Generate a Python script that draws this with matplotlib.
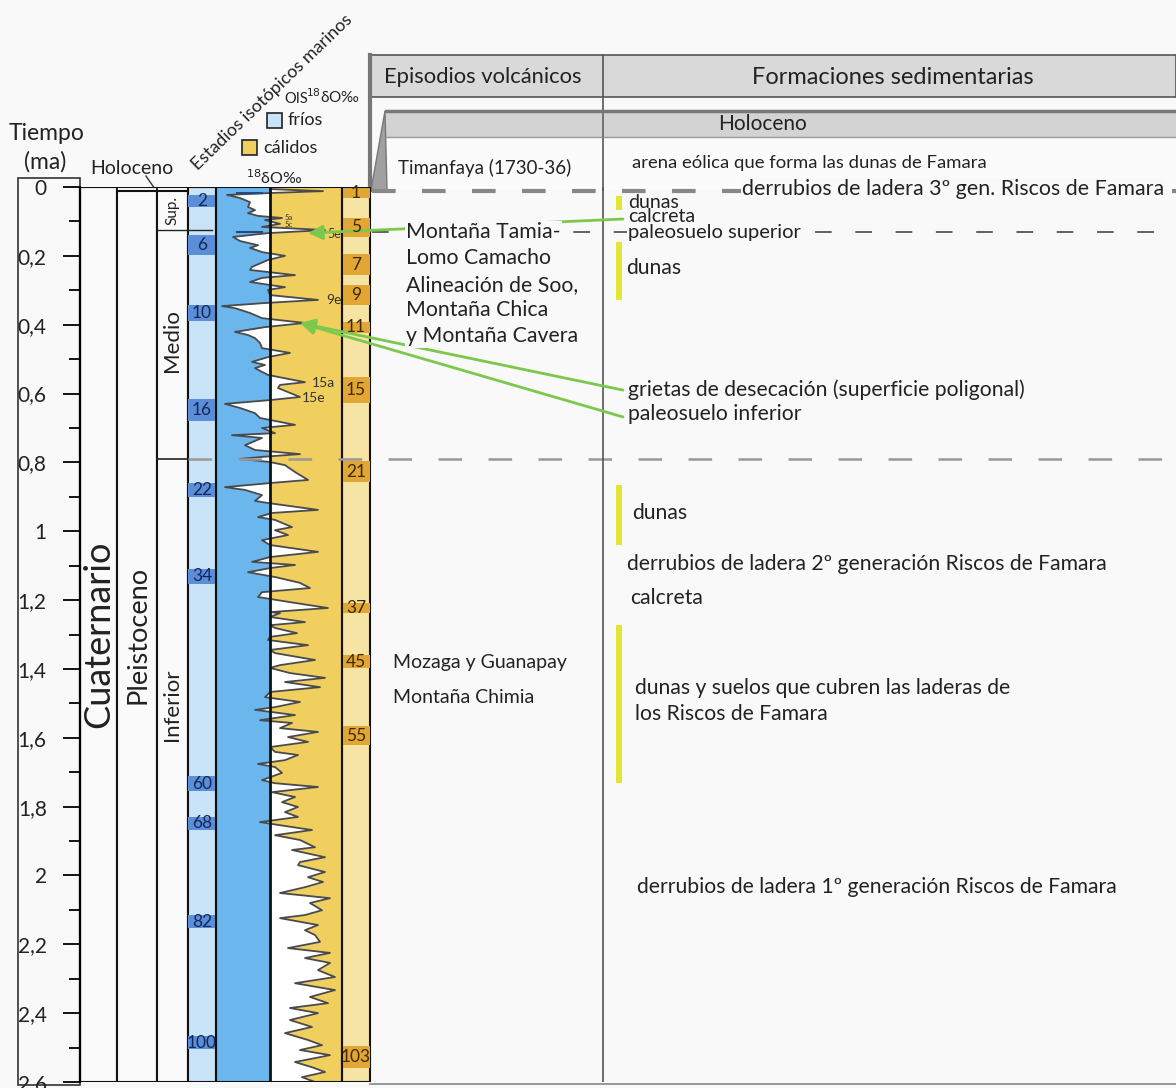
import matplotlib.pyplot as plt
from matplotlib.patches import Rectangle, Polygon

plt.rcParams['font.family'] = ['Lato', 'DejaVu Sans']
plt.rcParams['lines.scale_dashes'] = False

W, H = 1176, 1088          # output size in px
TOP_PX, BASE_PX = 187, 1082  # rows of 0 Ma and 2.6 Ma

# ---- values (Ma) ----
time_ticks = [0, 0.2, 0.4, 0.6, 0.8, 1.0, 1.2, 1.4, 1.6, 1.8, 2.0, 2.2, 2.4, 2.6]
time_labels = ["0", "0,2", "0,4", "0,6", "0,8", "1", "1,2", "1,4", "1,6", "1,8", "2", "2,2", "2,4", "2,6"]

holocene_base = 0.0117
upper_base = 0.126
middle_base = 0.79

cold_labels = ["2", "6", "10", "16", "22", "34", "60", "68", "82", "100"]
cold_top = [0.024, 0.139, 0.343, 0.616, 0.860, 1.110, 1.711, 1.830, 2.115, 2.467]
cold_base = [0.058, 0.198, 0.389, 0.680, 0.901, 1.153, 1.755, 1.868, 2.153, 2.504]

warm_labels = ["1", "5", "7", "9", "11", "15", "21", "37", "45", "55", "103"]
warm_top = [0.003, 0.090, 0.195, 0.285, 0.392, 0.552, 0.796, 1.209, 1.360, 1.566, 2.496]
warm_base = [0.032, 0.145, 0.256, 0.343, 0.424, 0.628, 0.857, 1.238, 1.397, 1.621, 2.560]

# d18O curve: offset from the cold/warm divide (+ = warm side)
d18o_t = [0.000, 0.006, 0.012, 0.017, 0.023, 0.032, 0.044, 0.058, 0.067, 0.076, 0.084, 0.090,
          0.096, 0.107, 0.116, 0.125, 0.134, 0.145, 0.157, 0.169, 0.177, 0.189, 0.200, 0.212,
          0.232, 0.241, 0.256, 0.264, 0.276, 0.291, 0.299, 0.314, 0.328, 0.337, 0.346, 0.352,
          0.366, 0.381, 0.395, 0.407, 0.421, 0.430, 0.439, 0.453, 0.468, 0.482, 0.494, 0.508,
          0.517, 0.526, 0.537, 0.546, 0.567, 0.575, 0.584, 0.610, 0.619, 0.630, 0.642, 0.657,
          0.671, 0.691, 0.700, 0.715, 0.721, 0.729, 0.750, 0.764, 0.776, 0.784, 0.790, 0.799,
          0.808, 0.828, 0.851, 0.860, 0.872, 0.880, 0.895, 0.912, 0.918, 0.938, 0.947, 0.959,
          0.967, 0.988, 0.997, 1.011, 1.026, 1.040, 1.060, 1.075, 1.089, 1.098, 1.107, 1.119,
          1.133, 1.150, 1.165, 1.177, 1.191, 1.206, 1.223, 1.235, 1.238, 1.249, 1.264, 1.273,
          1.281, 1.296, 1.307, 1.316, 1.331, 1.345, 1.354, 1.374, 1.389, 1.397, 1.412, 1.426,
          1.438, 1.453, 1.467, 1.482, 1.496, 1.511, 1.519, 1.534, 1.549, 1.557, 1.572, 1.583,
          1.598, 1.612, 1.627, 1.641, 1.650, 1.665, 1.676, 1.685, 1.702, 1.723, 1.732, 1.743,
          1.758, 1.772, 1.787, 1.801, 1.816, 1.830, 1.845, 1.854, 1.868, 1.883, 1.897, 1.918,
          1.926, 1.947, 1.961, 1.970, 1.990, 2.005, 2.019, 2.034, 2.051, 2.066, 2.080, 2.101,
          2.115, 2.124, 2.144, 2.159, 2.173, 2.193, 2.211, 2.225, 2.240, 2.254, 2.275, 2.295,
          2.313, 2.333, 2.353, 2.371, 2.385, 2.400, 2.420, 2.440, 2.458, 2.478, 2.493, 2.507,
          2.522, 2.542, 2.557, 2.571, 2.586, 2.600]
d18o_v = [0, 0, 53, 5, -43, -30, -20, -22, -15, -22, -12, 12,
          -5, 10, -8, 55, -2, -37, -30, -12, -20, -8, 15, -2,
          -18, -20, 25, -8, -20, 15, -2, 0, 48, -5, -48, -35,
          -20, -8, 35, -5, -35, -22, -15, -10, -8, 20, -2, -18,
          -5, -15, -8, -2, 35, 10, 8, 30, 0, -45, -30, -15,
          -10, 25, -8, 5, -38, -8, -25, -15, 30, -8, -30, 0,
          15, 25, 38, 0, -45, -25, -8, -15, -2, 48, 2, -12,
          5, 22, 5, 18, -8, 0, 48, 0, -18, 25, 0, -22,
          5, 30, 40, -8, -12, 20, 58, 0, 10, 0, 35, 0,
          5, 27, 0, -2, 38, 0, 5, 45, 10, 0, 20, 55,
          15, 50, 0, -5, 30, 5, -15, 25, -10, 22, 10, 48,
          18, 38, 0, 5, 28, 15, -12, 5, 12, -8, 5, 48,
          2, 25, 12, 28, 15, 28, -10, 10, 42, 5, 30, 45,
          22, 55, 30, 28, 55, 38, 53, 35, 10, 60, 40, 52,
          35, 10, 48, 35, 45, 50, 18, 60, 35, 60, 48, 65,
          25, 65, 40, 58, 20, 48, 20, 42, 15, 38, 52, 30,
          60, 25, 42, 55, 32, 45]

peak_labels = ["5a", "5c", "5e", "9e", "15a", "15e"]
peak_t = [0.089, 0.110, 0.136, 0.328, 0.569, 0.613]
peak_v = [15, 15, 57, 56, 42, 32]
peak_size = [5.5, 5.5, 9, 10, 10, 10]

volc_text = ["Montaña Tamia-", "Lomo Camacho", "Alineación de Soo,", "Montaña Chica",
             "y Montaña Cavera", "Mozaga y Guanapay", "Montaña Chimia"]
volc_t = [0.131, 0.206, 0.285, 0.357, 0.433, 1.380, 1.482]

sed_text = ["dunas", "calcreta", "paleosuelo superior", "dunas",
            "grietas de desecación (superficie poligonal)", "paleosuelo inferior", "dunas",
            "derrubios de ladera 2º generación Riscos de Famara", "calcreta",
            "dunas y suelos que cubren las laderas de", "los Riscos de Famara",
            "derrubios de ladera 1º generación Riscos de Famara"]
sed_t = [0.044, 0.087, 0.131, 0.235, 0.590, 0.660, 0.947, 1.095, 1.194, 1.456, 1.531, 2.034]
sed_x = [628, 628, 628, 626, 628, 628, 632, 627, 630, 635, 635, 637]

dune_top = [0.026, 0.160, 0.866, 1.273]
dune_base = [0.067, 0.328, 1.040, 1.732]

# ---- colours ----
BG = '#f9f9f9'
COLD_BG, COLD_BOX = '#c9e3f8', '#5b8ed6'
WARM_BG, WARM_BOX = '#f6e4a4', '#e2a634'
BLUE, YELLOW = '#6cb6ee', '#f1cf5e'
GREEN = '#7cc84e'
DUNE = '#e3e637'
GREY_HDR = '#d9d9d9'
INK = '#222222'

fig = plt.figure(figsize=(W / 100, H / 100), dpi=100, facecolor=BG)

# header overlay in pixel coordinates
top = fig.add_axes([0, 0, 1, 1], facecolor='none')
top.set_xlim(0, W)
top.set_ylim(H, 0)
top.axis('off')

bot = (H - BASE_PX) / H
hgt = (BASE_PX - TOP_PX) / H
ax = fig.add_axes([0, bot, 1, hgt], facecolor='none', zorder=3)
ax.set_xlim(0, W)
ax.set_ylim(2.6, 0)
for s in ['top', 'right', 'bottom']:
    ax.spines[s].set_visible(False)
ax.spines['left'].set_position(('data', 80))
ax.spines['left'].set_linewidth(1.6)
ax.set_xticks([])
ax.set_yticks(time_ticks)
ax.set_yticklabels(time_labels, fontsize=15, color=INK)
ax.set_yticks([t + 0.1 for t in time_ticks[:-1]], minor=True)
ax.tick_params(axis='y', which='major', direction='out', length=12, width=1.3, pad=12)
ax.tick_params(axis='y', which='minor', direction='out', length=8, width=1.3)

iso = fig.add_axes([216 / W, bot, 126 / W, hgt], sharey=ax, facecolor='none', zorder=2)
iso.set_xlim(-54, 72)
iso.axis('off')

# ---- left chronostratigraphic columns ----
ax.add_patch(Rectangle((18, -0.026), 62, 2.635, fill=False, ec='#333', lw=1.2, clip_on=False))
ax.add_patch(Rectangle((80, 0), 37, 2.6, fc='#fafafa', ec='#111', lw=1.5))
ax.add_patch(Rectangle((117, 0), 40, holocene_base, fc='#fafafa', ec='#111', lw=1.2))
ax.add_patch(Rectangle((117, holocene_base), 40, 2.6 - holocene_base, fc='#fafafa', ec='#111', lw=1.5))
ax.add_patch(Rectangle((157, holocene_base), 31, 2.6 - holocene_base, fc='#fafafa', ec='#111', lw=1.5))
ax.plot([157, 212], [upper_base, upper_base], color='#222', lw=1)
ax.plot([157, 188], [middle_base, middle_base], color='#222', lw=1.2)
ax.plot([80, 370], [0, 0], color='#111', lw=1.5)

ax.text(99, 1.3, "Cuaternario", rotation=90, ha='center', va='center', fontsize=26, color=INK)
ax.text(138, 1.3, "Pleistoceno", rotation=90, ha='center', va='center', fontsize=19.5, color=INK)
ax.text(172, (holocene_base + upper_base) / 2, "Sup.", rotation=90, ha='center', va='center',
        fontsize=11, color=INK)
ax.text(172, 0.445, "Medio", rotation=90, ha='center', va='center', fontsize=16, color=INK)
ax.text(172, 1.505, "Inferior", rotation=90, ha='center', va='center', fontsize=16, color=INK)

# ---- OIS stage columns ----
ax.add_patch(Rectangle((188, 0), 28, 2.6, fc=COLD_BG, ec='#111', lw=1.5))
for lab, t0, t1 in zip(cold_labels, cold_top, cold_base):
    ax.add_patch(Rectangle((188, t0), 28, t1 - t0, fc=COLD_BOX, ec='none'))
    ax.text(202, (t0 + t1) / 2, lab, ha='center', va='center', fontsize=12.5, color='#14275a')
ax.add_patch(Rectangle((342, 0), 28, 2.6, fc=WARM_BG, ec='#111', lw=1.5))
for lab, t0, t1 in zip(warm_labels, warm_top, warm_base):
    ax.add_patch(Rectangle((342, t0), 28, t1 - t0, fc=WARM_BOX, ec='none'))
    ax.text(356, (t0 + t1) / 2, lab, ha='center', va='center', fontsize=12.5, color='#3d2a00')

# ---- d18O curve ----
iso.axvspan(-54, 0, color=BLUE, lw=0)
iso.axvspan(0, 72, color=YELLOW, lw=0)
iso.fill_betweenx(d18o_t, 0, d18o_v, color='white', lw=0)
iso.plot(d18o_v, d18o_t, color='#4a4a4a', lw=1.3)
for lab, t, v, fs in zip(peak_labels, peak_t, peak_v, peak_size):
    iso.text(v, t, lab, ha='left', va='center', fontsize=fs, color='#333')
ax.plot([237, 262], [0.017, 0.017], color='#244a80', lw=1.5)
ax.plot([237, 262], [0.130, 0.130], color='#244a80', lw=1.5)
for x in [216, 342]:
    ax.plot([x, x], [0, 2.6], color='#111', lw=1.5)
ax.plot([270, 270], [0, 2.6], color='#111', lw=2)
ax.plot([216, 342], [2.6, 2.6], color='#111', lw=1.5)

# ---- time boundary dashes ----
ax.plot([372, W], [0.131, 0.131], color='#555', lw=1.3, ls=(0, (12, 17)))
ax.plot([188, W], [middle_base, middle_base], color='#999', lw=1.8, ls=(0, (17, 19)))

# ---- right panels ----
ax.plot([603, 603], [0, 2.6], color='#555', lw=1.2)
ax.plot([370, W], [2.605, 2.605], color='#888', lw=1.2, clip_on=False)

# green correlation arrows (under the text boxes)
arrow = dict(arrowstyle='-|>', color=GREEN, lw=2, mutation_scale=22, shrinkA=0, shrinkB=0)
ax.annotate('', xy=(308, 0.134), xytext=(623, 0.093), arrowprops=arrow, zorder=2.5)
ax.annotate('', xy=(300, 0.395), xytext=(623, 0.590), arrowprops=arrow, zorder=2.5)
ax.annotate('', xy=(300, 0.395), xytext=(623, 0.668), arrowprops=arrow, zorder=2.5)

for txt, t in zip(volc_text[:5], volc_t[:5]):
    ax.text(406, t, txt, ha='left', va='center', fontsize=15.3, color=INK, zorder=4,
            bbox=dict(fc=BG, ec='none', pad=1))
for txt, t in zip(volc_text[5:], volc_t[5:]):
    ax.text(393, t, txt, ha='left', va='center', fontsize=14, color=INK)

for txt, t, x in zip(sed_text, sed_t, sed_x):
    if txt == "paleosuelo superior":
        ax.text(x, t, txt, ha='left', va='center', fontsize=14.5, color=INK, zorder=4,
                bbox=dict(fc=BG, ec='none', pad=0.5))
    elif t < 0.2:
        ax.text(x, t, txt, ha='left', va='center', fontsize=14, color=INK, zorder=4)
    else:
        ax.text(x, t, txt, ha='left', va='center', fontsize=15.2, color=INK)

for t0, t1 in zip(dune_top, dune_base):
    ax.add_patch(Rectangle((616, t0), 6, t1 - t0, fc=DUNE, ec='none'))

# ---- header (pixel coordinates) ----
top.add_patch(Rectangle((370, 55), W - 370, 42, fc=GREY_HDR, ec='#555', lw=1.2))
top.plot([603, 603], [55, 190], color='#555', lw=1.2)
top.text(483, 77, "Episodios volcánicos", ha='center', va='center', fontsize=15.8, color=INK)
top.text(893, 77, "Formaciones sedimentarias", ha='center', va='center', fontsize=17, color=INK)

top.add_patch(Rectangle((386, 111), W - 386, 26, fc='#d3d3d3', ec='none'))
top.add_patch(Rectangle((386, 137), W - 386, 53, fc='#fbfbfb', ec='none'))
top.plot([386, W], [111, 111], color='#777', lw=2.5)
top.plot([386, W], [137, 137], color='#999', lw=1)
top.plot([603, 603], [111, 190], color='#777', lw=1.2)
top.add_patch(Polygon([(385, 111), (387, 190), (371, 190)], fc='#a0a0a0', ec='#777', lw=1))
top.plot([370, 370], [55, 190], color='#777', lw=3)
top.text(763, 124, "Holoceno", ha='center', va='center', fontsize=15, color=INK)
top.text(398, 168, "Timanfaya (1730-36)", ha='left', va='center', fontsize=13.5, color=INK)
top.text(632, 163, "arena eólica que forma las dunas de Famara", ha='left', va='center',
         fontsize=13.3, color=INK)
top.plot([372, W], [191, 191], color='#888', lw=3, ls=(0, (17, 19)))
top.text(742, 189, "derrubios de ladera 3º gen. Riscos de Famara", ha='left', va='center',
         fontsize=15.4, color=INK, bbox=dict(fc=BG, ec='none', pad=1))

# time-scale header, legend
top.text(47, 134, "Tiempo", ha='center', va='center', fontsize=16.5, color=INK)
top.text(45, 162, "(ma)", ha='center', va='center', fontsize=16.5, color=INK)
top.text(132, 168, "Holoceno", ha='center', va='center', fontsize=14, color=INK)
top.plot([146, 157], [176, 192], color='#333', lw=1)
top.text(272, 92, "Estadios isotópicos marinos", rotation=44, ha='center', va='center',
         rotation_mode='anchor', fontsize=12.8, color=INK)
top.text(284, 99, "OIS", ha='left', va='center', fontsize=10.5, color=INK)
top.text(306, 97, r"$^{18}$δO‰", ha='left', va='center', fontsize=11, color=INK)
top.add_patch(Rectangle((267, 113), 15, 15, fc=COLD_BG, ec=INK, lw=1.2))
top.text(288, 120, "fríos", ha='left', va='center', fontsize=13, color=INK)
top.add_patch(Rectangle((242, 140), 15, 15, fc=YELLOW, ec=INK, lw=1.2))
top.text(263, 148, "cálidos", ha='left', va='center', fontsize=13, color=INK)
top.text(246, 178, r"$^{18}$δO‰", ha='left', va='center', fontsize=11.5, color=INK)

fig.savefig("out.png", dpi=100, facecolor=BG)
